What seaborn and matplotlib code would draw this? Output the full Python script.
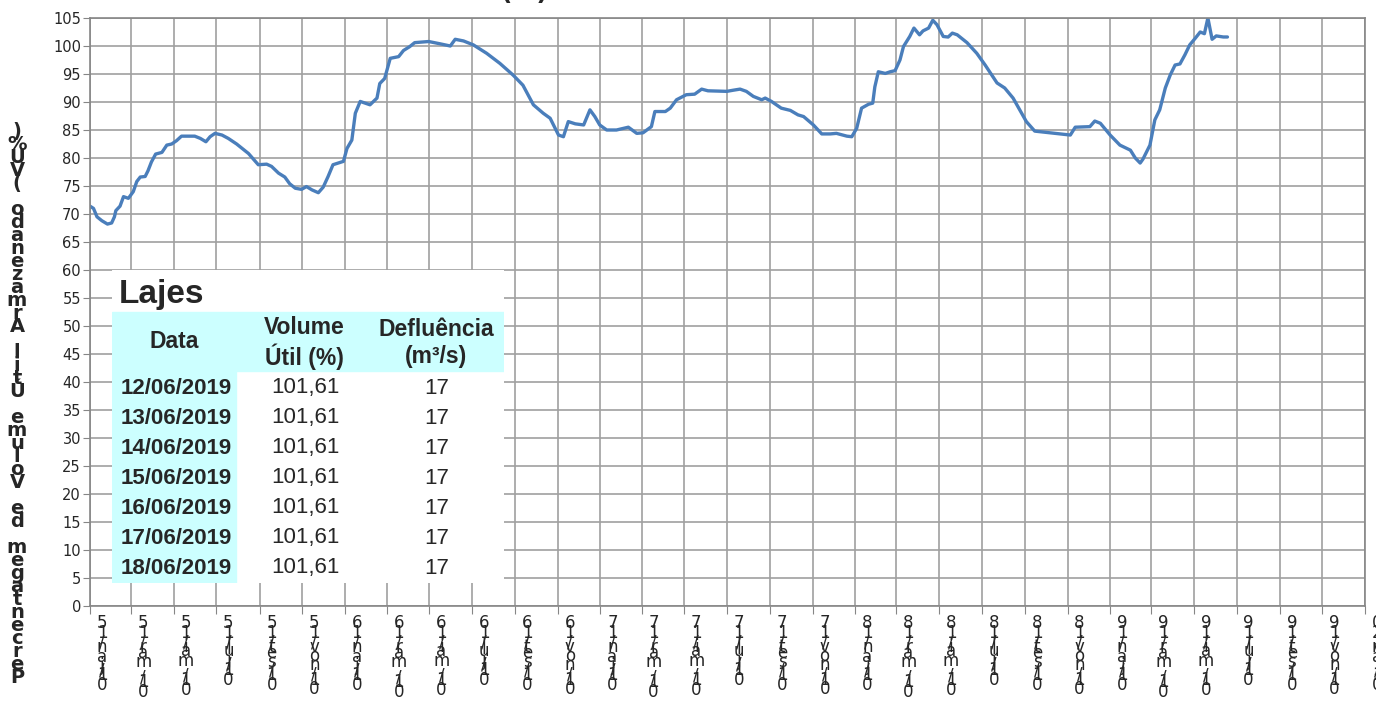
"""
Lajes - Volume Util armazenado (%) 2015-2019, com tabela dos ultimos dias
"""
import pandas as pd
import matplotlib.pyplot as plt
import matplotlib.transforms as mtransforms
from matplotlib.patches import Rectangle
import seaborn as sns

sns.set_style("white")
plt.rcParams["font.family"] = ["DejaVu Sans"]

# ---------------------------------------------------------
# DADOS
# ---------------------------------------------------------
# dias corridos desde 01/01/2015
dias = [0, 5, 10, 17, 25, 31, 35, 37, 43, 48,
        55, 62, 67, 72, 79, 83, 88, 94, 103, 110,
        117, 124, 131, 150, 158, 166, 172, 179, 189, 198,
        210, 227, 241, 253, 260, 270, 279, 286, 294, 303,
        310, 318, 327, 334, 341, 348, 363, 368, 375, 380,
        387, 401, 411, 415, 422, 430, 442, 449, 458, 465,
        485, 501, 516, 523, 535, 549, 568, 587, 606, 620,
        635, 649, 659, 671, 678, 685, 695, 707, 716, 723,
        730, 740, 754, 771, 783, 792, 804, 809, 824, 831,
        840, 854, 866, 876, 885, 912, 921, 931, 940, 950,
        962, 967, 976, 990, 1003, 1014, 1022, 1036, 1048, 1060,
        1069, 1084, 1091, 1098, 1105, 1115, 1121, 1124, 1129, 1139,
        1146, 1153, 1160, 1165, 1174, 1180, 1188, 1193, 1201, 1207,
        1213, 1222, 1229, 1235, 1242, 1256, 1270, 1282, 1299, 1310,
        1322, 1341, 1353, 1375, 1404, 1411, 1432, 1439, 1447, 1461,
        1475, 1490, 1497, 1504, 1508, 1518, 1525, 1532, 1540, 1547,
        1554, 1561, 1568, 1575, 1583, 1590, 1596, 1601, 1607, 1613,
        1623, 1629]

# volume util (%)
volume = [71.4, 71.0, 69.5, 68.8, 68.2, 68.4, 69.5, 70.6, 71.4, 73.1,
          72.8, 74.0, 75.8, 76.6, 76.7, 77.7, 79.3, 80.7, 81.0, 82.3,
          82.5, 83.1, 83.9, 83.9, 83.5, 82.9, 83.8, 84.4, 84.1, 83.5,
          82.5, 80.8, 78.8, 78.9, 78.5, 77.3, 76.6, 75.4, 74.6, 74.4,
          74.9, 74.3, 73.8, 74.8, 76.7, 78.8, 79.4, 81.7, 83.2, 88.0,
          90.1, 89.5, 90.7, 93.3, 94.2, 97.8, 98.1, 99.2, 99.9, 100.6,
          100.8, 100.4, 100.0, 101.2, 100.9, 100.2, 98.7, 96.9, 94.8, 93.0,
          89.5, 88.0, 87.1, 84.1, 83.8, 86.5, 86.1, 85.9, 88.6, 87.4,
          85.9, 85.0, 85.0, 85.5, 84.4, 84.5, 85.6, 88.3, 88.3, 88.9,
          90.4, 91.3, 91.4, 92.3, 92.0, 91.9, 92.1, 92.3, 91.9, 91.0,
          90.4, 90.7, 90.1, 88.9, 88.5, 87.7, 87.4, 85.9, 84.3, 84.3,
          84.4, 83.9, 83.8, 85.3, 88.9, 89.6, 89.8, 92.7, 95.4, 95.1,
          95.4, 95.6, 97.5, 99.9, 101.7, 103.2, 102.0, 102.7, 103.2, 104.6,
          103.8, 101.7, 101.6, 102.3, 102.0, 100.6, 98.7, 96.6, 93.4, 92.5,
          90.7, 86.5, 84.8, 84.5, 84.1, 85.5, 85.6, 86.6, 86.2, 84.1,
          82.3, 81.4, 80.0, 79.1, 79.8, 82.3, 86.8, 88.6, 92.5, 94.8,
          96.6, 96.8, 98.4, 100.2, 101.4, 102.5, 102.2, 105.0, 101.2, 101.8,
          101.61, 101.61]

# tabela
tab_datas = ["12/06/2019", "13/06/2019", "14/06/2019", "15/06/2019",
             "16/06/2019", "17/06/2019", "18/06/2019"]
tab_volume = ["101,61", "101,61", "101,61", "101,61", "101,61", "101,61", "101,61"]
tab_deflu = ["17", "17", "17", "17", "17", "17", "17"]

meses = ["jan", "mar", "mai", "jul", "set", "nov"]
ylabel = "Percentagem de Volume Útil Armazenado (VU%)"

# largura aproximada dos caracteres (em) p/ empilhar os rotulos do eixo x
larg = {"/": 0.337, "a": 0.613, "e": 0.615, "i": 0.278, "j": 0.278, "l": 0.278,
        "m": 0.974, "n": 0.634, "o": 0.612, "r": 0.411, "s": 0.521, "t": 0.392,
        "u": 0.634, "v": 0.592}

df = pd.DataFrame({"data": pd.Timestamp("2015-01-01") + pd.to_timedelta(dias, unit="D"),
                   "volume": volume})

# ---------------------------------------------------------
# GRAFICO
# ---------------------------------------------------------
fig = plt.figure(figsize=(13.76, 7.02), dpi=100)
ax = fig.add_axes([90 / 1376, 1 - 606 / 702, 1275 / 1376, 588 / 702])

sns.lineplot(data=df, x="data", y="volume", ax=ax, color="#4a7ebb", linewidth=2.4)

ax.set_ylim(0, 105)
ax.set_yticks(range(0, 106, 5))
ax.set_xlim(pd.Timestamp("2015-01-01"), pd.Timestamp("2020-01-01"))
ticks = pd.date_range("2015-01-01", "2020-01-01", freq="2MS")
ax.set_xticks(ticks)
ax.set_xticklabels([])

# rotulos empilhados (caracteres invertidos e sobrepostos, como no original)
trans = mtransforms.blended_transform_factory(ax.transData, ax.transAxes)
for d in ticks:
    s = f"01/{meses[(d.month - 1) // 2]}/{d.year % 100:02d}"
    pos = 0.0
    for ch in reversed(s):
        off = mtransforms.ScaledTranslation(12 / 100, -(8 + pos) / 100, fig.dpi_scale_trans)
        ax.text(d, 0, ch, transform=trans + off, ha="center", va="top",
                fontsize=12, clip_on=False)
        pos += larg.get(ch, 0.636) * 15

ax.tick_params(axis="y", labelsize=10.5, length=5, color="#868686", direction="out", left=True, pad=1.5)
ax.tick_params(axis="x", length=6, color="#868686", direction="out", bottom=True)
ax.set_xlabel("")
ax.set_ylabel("")
ax.grid(True, color="#a0a0a0", linewidth=1.2)
for sp in ax.spines.values():
    sp.set_color("#868686")
    sp.set_linewidth(1.2)

# rotulo do eixo y (empilhado)
fig.text(17 / 1376, 1 - 122 / 702, "\n".join(reversed(ylabel)), ha="center", va="top",
         multialignment="center", fontsize=14, fontweight="bold", linespacing=0.6)

# titulo cortado no topo
fig.text(525 / 1376, 1.0, "(%)", ha="center", va="baseline", fontsize=18, fontweight="bold")

# ---------------------------------------------------------
# TABELA
# ---------------------------------------------------------
tax = fig.add_axes([112 / 1376, 1 - 583 / 702, 392 / 1376, 313 / 702])
tax.set_xlim(112, 504)
tax.set_ylim(583, 270)
tax.axis("off")
fam = ["Liberation Sans", "DejaVu Sans"]
tax.add_patch(Rectangle((112, 270), 392, 313, color="white", zorder=0))
tax.add_patch(Rectangle((112, 312), 392, 59, color="#ccffff", zorder=1))
tax.add_patch(Rectangle((112, 371), 124, 212, color="#ccffff", zorder=1))

tax.text(119, 303, "Lajes", fontsize=24, fontweight="bold", family=fam, va="baseline", ha="left")
tax.text(174, 342, "Data", fontsize=16.5, fontweight="bold", family=fam, va="center", ha="center")
tax.text(304, 343, "Volume\nÚtil (%)", fontsize=16.5, fontweight="bold", family=fam,
         va="center", ha="center", linespacing=1.2)
tax.text(436, 343, "Defluência\n(m³/s)", fontsize=16.5, fontweight="bold", family=fam,
         va="center", ha="center", linespacing=1.2)
for i in range(len(tab_datas)):
    y = 388 + 30 * i
    tax.text(176, y, tab_datas[i], fontsize=16, fontweight="bold", family=fam, va="center", ha="center")
    tax.text(305, y, tab_volume[i], fontsize=16, family=fam, va="center", ha="center")
    tax.text(437, y, tab_deflu[i], fontsize=16, family=fam, va="center", ha="center")

fig.savefig("out.png", dpi=100)
plt.close()
